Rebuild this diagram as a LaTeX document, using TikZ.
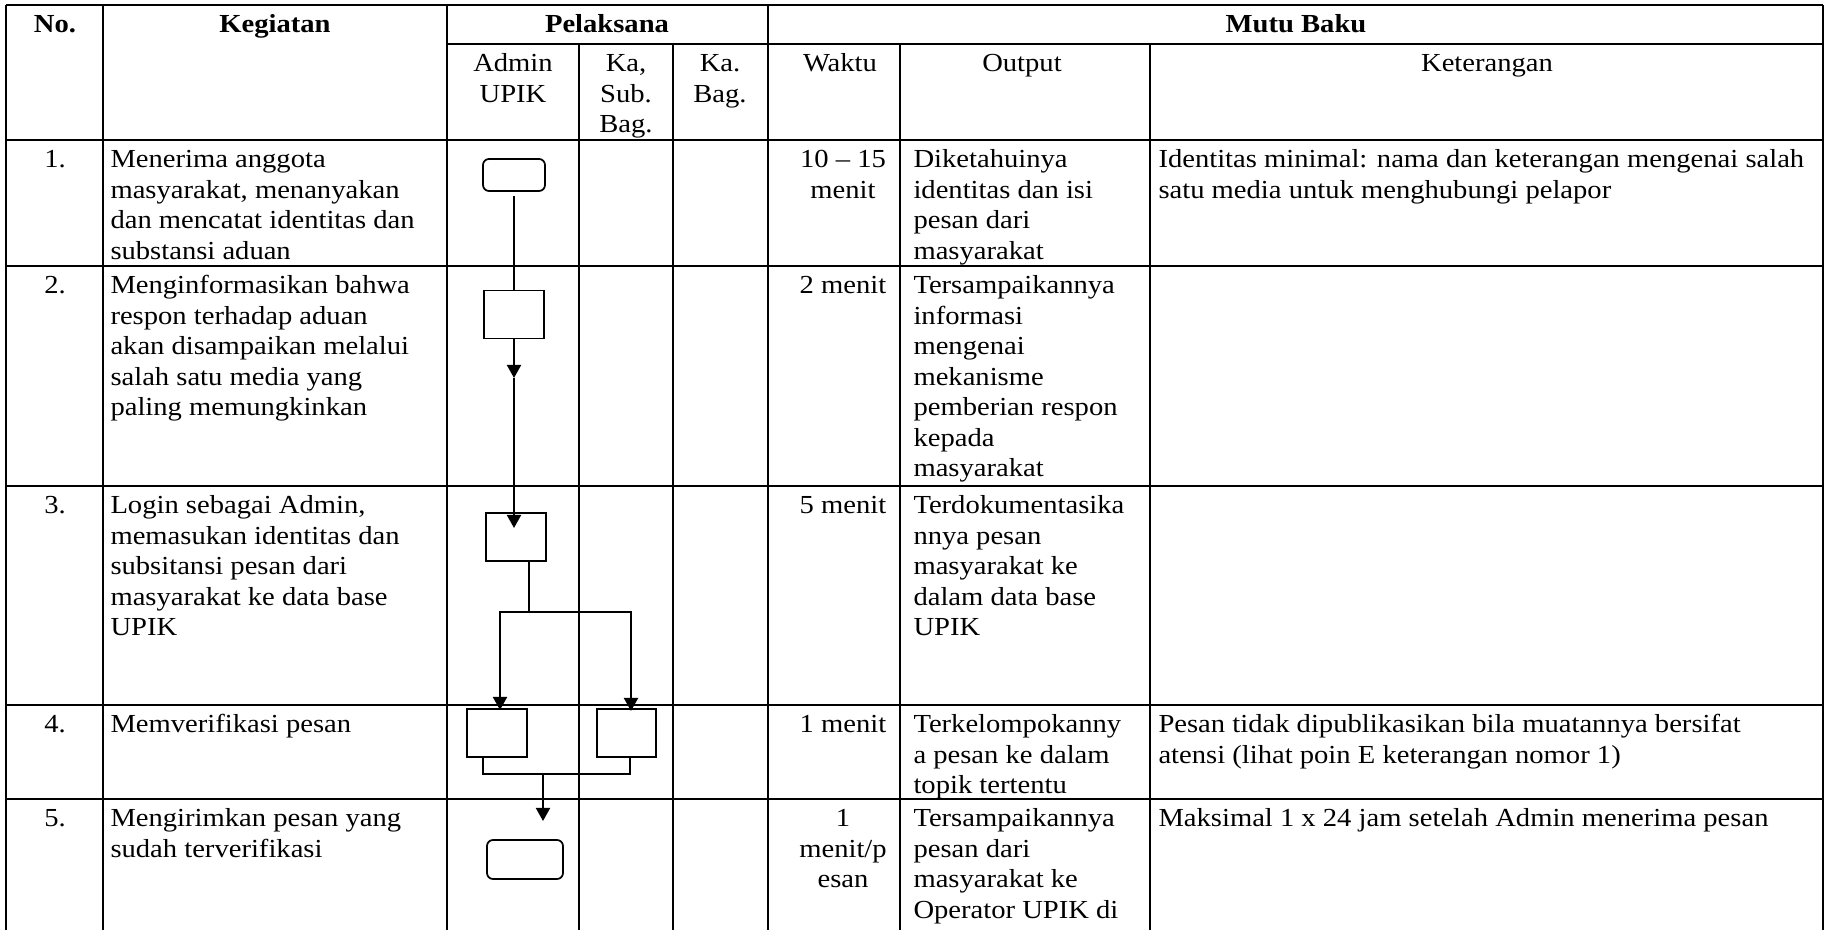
\documentclass[tikz,border=0pt]{standalone}
\usepackage{fontspec}
\setmainfont{Liberation Serif}[FakeStretch=1.1]
\usetikzlibrary{arrows.meta,calc}
\newcommand\cellfont{\fontsize{10.4}{12.2}\selectfont}
\newcommand\tstrut{\rule{0pt}{8.5pt}}

\begin{document}
\begin{tikzpicture}[x=0.4pt,y=-0.4pt,
  grid/.style={line width=0.8pt},
  cell/.style={anchor=north west,inner sep=0pt,align=left,font=\cellfont},
  ccell/.style={anchor=north,inner sep=0pt,align=center,font=\cellfont},
  head/.style={ccell,font=\cellfont\bfseries},
  stepbox/.style={draw,line width=0.7pt,inner sep=0pt,minimum width=24pt,minimum height=19.2pt},
  termbox/.style={draw,line width=0.7pt,inner sep=0pt,rounded corners=2.4pt},
  flow/.style={line width=0.8pt},
  flowarr/.style={flow,-{Triangle[length=5.2pt,width=5.6pt]}}
]
\fill[white] (0,0) rectangle (1827,930);
\useasboundingbox (0,0) rectangle (1827,930);

% table rules
\draw[grid] (6,5) -- (1823,5);
\draw[grid] (447,44) -- (1823,44);
\foreach \y in {140,266,486,705,799} \draw[grid] (6,\y) -- (1823,\y);
\foreach \x in {6,103,447,768,1823} \draw[grid] (\x,5) -- (\x,930);
\foreach \x in {579,673,900,1150} \draw[grid] (\x,44) -- (\x,930);

% header
\node[head] (hNo)   at (55,11)   {\tstrut No.};
\node[head] (hKeg)  at (275,11)  {\tstrut Kegiatan};
\node[head] (hPel)  at (607,11)  {\tstrut Pelaksana};
\node[head] (hMutu) at (1296,11) {\tstrut Mutu Baku};
\node[ccell] (hAdm) at (513,50)  {\tstrut Admin\\UPIK};
\node[ccell] (hKs)  at (626,50)  {\tstrut Ka,\\Sub.\\Bag.};
\node[ccell] (hKb)  at (720,50)  {\tstrut Ka.\\Bag.};
\node[ccell] (hW)   at (840,50)  {\tstrut Waktu};
\node[ccell] (hO)   at (1022,50) {\tstrut Output};
\node[ccell] (hK)   at (1487,50) {\tstrut Keterangan};

% row numbers
\node[ccell] (n1) at (55,146) {\tstrut 1.};
\node[ccell] (n2) at (55,272) {\tstrut 2.};
\node[ccell] (n3) at (55,492) {\tstrut 3.};
\node[ccell] (n4) at (55,711) {\tstrut 4.};
\node[ccell] (n5) at (55,805) {\tstrut 5.};

% activities
\node[cell] (k1) at (110,146) {\tstrut Menerima anggota\\masyarakat, menanyakan\\dan mencatat identitas dan\\substansi aduan};
\node[cell] (k2) at (110,272) {\tstrut Menginformasikan bahwa\\respon terhadap aduan\\akan disampaikan melalui\\salah satu media yang\\paling memungkinkan};
\node[cell] (k3) at (110,492) {\tstrut Login sebagai Admin,\\memasukan identitas dan\\subsitansi pesan dari\\masyarakat ke data base\\UPIK};
\node[cell] (k4) at (110,711) {\tstrut Memverifikasi pesan};
\node[cell] (k5) at (110,805) {\tstrut Mengirimkan pesan yang\\sudah terverifikasi};

% time
\node[ccell] (w1) at (843,146) {\tstrut 10 – 15\\menit};
\node[ccell] (w2) at (843,272) {\tstrut 2 menit};
\node[ccell] (w3) at (843,492) {\tstrut 5 menit};
\node[ccell] (w4) at (843,711) {\tstrut 1 menit};
\node[ccell] (w5) at (843,805) {\tstrut 1\\menit/p\\esan};

% output
\node[cell] (o1) at (913,146) {\tstrut Diketahuinya\\identitas dan isi\\pesan dari\\masyarakat};
\node[cell] (o2) at (913,272) {\tstrut Tersampaikannya\\informasi\\mengenai\\mekanisme\\pemberian respon\\kepada\\masyarakat};
\node[cell] (o3) at (913,492) {\tstrut Terdokumentasika\\nnya pesan\\masyarakat ke\\dalam data base\\UPIK};
\node[cell] (o4) at (913,711) {\tstrut Terkelompokanny\\a pesan ke dalam\\topik tertentu};
\node[cell] (o5) at (913,805) {\tstrut Tersampaikannya\\pesan dari\\masyarakat ke\\Operator UPIK di};

% remarks
\node[cell] (r1) at (1158,146) {\tstrut Identitas minimal: nama dan keterangan mengenai salah\\satu media untuk menghubungi pelapor};
\node[cell] (r4) at (1158,711) {\tstrut Pesan tidak dipublikasikan bila muatannya bersifat\\atensi (lihat poin E keterangan nomor 1)};
\node[cell] (r5) at (1158,805) {\tstrut Maksimal 1 x 24 jam setelah Admin menerima pesan};

% flow symbols
\node[termbox,minimum width=24.8pt,minimum height=12.8pt] (f1) at (514,175) {};
\node[stepbox] (f2) at (514,314.5) {};
\node[stepbox] (f3) at (516,537) {};
\node[stepbox] (f4a) at (497,733) {};
\node[stepbox,minimum width=23.6pt] (f4b) at (626.5,733) {};
\node[termbox,minimum width=30.4pt,minimum height=15.6pt] (f5) at (525,859.5) {};

% flow connectors
\draw[flow,shorten <=1.8pt] (f1.south) -- (f2.north);
\coordinate (m2) at (514,378);
\draw[flowarr] (f2.south) -- (m2);
\coordinate (t3) at (514,528);
\draw[flowarr] (m2) -- (t3);
\coordinate (s3) at (529,612);
\draw[flow] (f3.south -| s3) -- (s3);
\coordinate (a4a) at (500,710);
\coordinate (a4b) at (631,711);
\draw[flowarr] (s3) -| (a4a);
\draw[flowarr] (s3) -| (a4b);
\coordinate (j4) at (543,774);
\draw[flow] ($(f4a.south)+(-14,0)$) |- (j4) -| ($(f4b.south)+(3.5,0)$);
\coordinate (t5) at (543,821);
\draw[flowarr] (j4) -- (t5);
\end{tikzpicture}
\end{document}
